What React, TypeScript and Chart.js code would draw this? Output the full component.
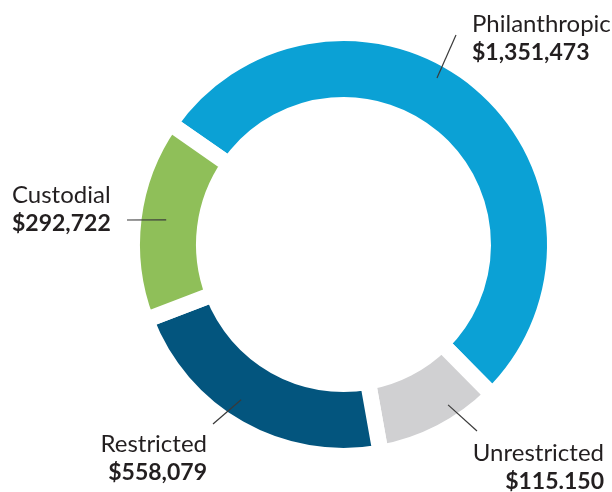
import React, { useEffect, useRef } from "react";
import Chart from "chart.js/auto";

// ---- data ----
const categories = ["Philanthropic", "Unrestricted", "Restricted", "Custodial"];
const amountLabels = ["$1,351,473", "$115.150", "$558,079", "$292,722"];
// share of the ring each segment occupies in the drawing (%)
const ringShares = [52.9, 9.6, 22.0, 15.5];
const segmentColors = ["#0BA1D5", "#D0D0D2", "#03557E", "#8FBF59"];

// ---- layout ----
const W = 612;
const H = 492;
const GAP = 16;
const START_ANGLE = 304.9; // degrees clockwise from 12 o'clock

// leader lines: inner end in polar coords around the ring centre, outer end near the label
const leaders = [
  { angle: 29.3, radius: 191, to: [456, 35] },
  { angle: 146.9, radius: 191.5, to: [477, 431] },
  { angle: 213.4, radius: 186, to: [213, 424] },
  { angle: 277.9, radius: 179, to: [127, 220] },
];

const labelBoxes: React.CSSProperties[] = [
  { left: 472, top: 8, textAlign: "left" },
  { right: 8, top: 437, textAlign: "right" },
  { right: 405, top: 428, textAlign: "right" },
  { left: 12, top: 179, textAlign: "left" },
];

const leaderPlugin = {
  id: "leaders",
  afterDatasetsDraw(chart: any) {
    const arc = chart.getDatasetMeta(0).data[0];
    if (!arc) return;
    const cx = arc.x;
    const cy = arc.y;
    const ctx = chart.ctx;
    ctx.save();
    ctx.strokeStyle = "#3a3a3a";
    ctx.lineWidth = 1.2;
    leaders.forEach((l) => {
      const a = (l.angle * Math.PI) / 180;
      const x1 = cx + Math.sin(a) * l.radius;
      const y1 = cy - Math.cos(a) * l.radius;
      ctx.beginPath();
      ctx.moveTo(x1, y1);
      ctx.lineTo(l.to[0], l.to[1]);
      ctx.stroke();
    });
    ctx.restore();
  },
};

export default function App() {
  const canvasRef = useRef<HTMLCanvasElement | null>(null);

  useEffect(() => {
    if (!canvasRef.current) return;
    const chart = new Chart(canvasRef.current, {
      type: "doughnut",
      data: {
        labels: categories,
        datasets: [
          {
            data: ringShares,
            backgroundColor: segmentColors,
            borderColor: "#ffffff",
            borderWidth: GAP,
            borderAlign: "center",
            hoverOffset: 0,
          },
        ],
      },
      options: {
        animation: false,
        responsive: true,
        maintainAspectRatio: false,
        events: [],
        rotation: START_ANGLE,
        cutout: 139.5,
        layout: { padding: { left: 124, top: 25, right: 49, bottom: 28 } },
        plugins: {
          legend: { display: false },
          tooltip: { enabled: false },
        },
      },
      plugins: [leaderPlugin],
    });
    return () => chart.destroy();
  }, []);

  return (
    <div
      style={{
        position: "fixed",
        left: 0,
        top: 0,
        width: W,
        height: H,
        background: "#ffffff",
        overflow: "hidden",
      }}
    >
      <canvas ref={canvasRef} style={{ position: "absolute", left: 0, top: 0, width: W, height: H }} />
      {categories.map((c, i) => (
        <div
          key={c}
          style={{
            position: "absolute",
            fontFamily: "Lato, 'Open Sans', sans-serif",
            fontSize: 24,
            lineHeight: "29px",
            color: "#231F20",
            whiteSpace: "nowrap",
            ...labelBoxes[i],
          }}
        >
          <div>{c}</div>
          <div style={{ fontWeight: 700, fontSize: 23 }}>{amountLabels[i]}</div>
        </div>
      ))}
    </div>
  );
}
